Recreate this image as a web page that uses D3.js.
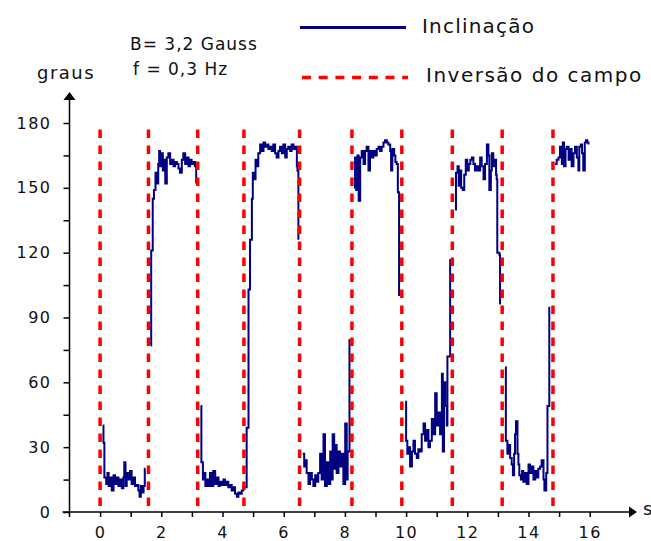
<!DOCTYPE html>
<html>
<head>
  <style>
    body { margin: 0; background: #fff; }
    svg text { font-family: "DejaVu Sans", Verdana, sans-serif; fill: #111; }
    .tick line { stroke: #000; stroke-width: 1.5; }
    .tick text { font-size: 16px; letter-spacing: 1.5px; }
  </style>
</head>
<body>
  <div id="chart"></div>
  <script src="https://d3js.org/d3.v7.min.js"></script>
  <script>
    // times (s) of the field inversions
    const inversoes = [0, 1.58, 3.19, 4.7, 6.52, 8.23, 9.86, 11.51, 13.14, 14.8];
    const inversaoExtent = [177, 2];

    // inclination (graus), one array per half period: [t, graus]
    const trecho1 = [[0.09,40],[0.11,32],[0.14,16],[0.2,13],[0.24,18],[0.28,12],[0.33,16],[0.38,10],[0.44,17],[0.49,13],[0.54,16],[0.6,12],[0.65,15],[0.71,11],[0.76,16],[0.79,23],[0.83,12],[0.87,18],[0.92,15],[0.98,19],[1.03,13],[1.09,16],[1.14,12],[1.2,12.5],[1.25,10],[1.29,7],[1.33,12],[1.37,9],[1.42,12],[1.46,20],[1.48,20]];
    const trecho2 = [[1.66,77],[1.67,121],[1.72,145],[1.76,149],[1.81,157],[1.85,152],[1.9,161],[1.93,167],[1.96,160],[2.0,166],[2.05,158],[2.09,163],[2.13,152],[2.18,164],[2.23,166],[2.29,161],[2.34,163],[2.4,160],[2.45,162],[2.51,161],[2.56,159],[2.61,157],[2.67,163],[2.72,166],[2.78,161],[2.83,164],[2.89,160],[2.94,163],[2.99,161],[3.05,162],[3.1,160],[3.14,152]];
    const trecho3 = [[3.29,49],[3.31,23],[3.36,15],[3.4,18],[3.44,12],[3.49,15],[3.54,12],[3.59,18],[3.65,12],[3.7,19],[3.76,13],[3.81,16],[3.87,12],[3.92,14],[3.98,12.5],[4.03,15],[4.08,12.5],[4.14,14],[4.19,11.5],[4.25,12.5],[4.3,10],[4.36,11.5],[4.41,8.5],[4.47,7],[4.52,9],[4.58,8.5],[4.63,10],[4.68,11.5],[4.76,11.5],
      [4.79,39],[4.85,103],[4.9,126],[4.96,145],[4.99,157],[5.03,154],[5.08,163],[5.12,160],[5.17,166],[5.23,170],[5.28,167],[5.34,171],[5.39,169],[5.45,170],[5.5,168],[5.56,169],[5.61,167],[5.66,170],[5.72,166],[5.77,164],[5.83,167],[5.88,169],[5.94,166],[5.99,170],[6.05,164],[6.1,168],[6.15,169],[6.21,167],[6.26,170],[6.32,168],[6.37,169],[6.43,160],[6.45,158],[6.48,126]];
    const trecho4 = [[6.62,27],[6.67,21],[6.7,24],[6.75,18],[6.81,13],[6.86,18],[6.92,15],[6.97,12],[7.03,17],[7.08,14],[7.13,18],[7.19,27],[7.24,15],[7.3,36],[7.35,12],[7.41,23],[7.46,13],[7.52,28],[7.57,15],[7.6,36],[7.65,20],[7.68,31],[7.73,18],[7.79,28],[7.84,21],[7.9,27],[7.95,13],[8.01,41],[8.06,15],[8.09,28],[8.13,28],[8.15,80]];
    const trecho5 = [[8.3,150],[8.33,164],[8.37,149],[8.41,165],[8.45,144],[8.5,164],[8.55,167],[8.61,161],[8.66,167],[8.71,169],[8.77,158],[8.82,167],[8.88,164],[8.93,167],[8.99,165],[9.04,168],[9.1,169],[9.15,167],[9.2,169],[9.26,171],[9.31,172],[9.37,171],[9.42,170],[9.48,167],[9.51,158],[9.55,168],[9.61,165],[9.65,162],[9.69,161],[9.73,148],[9.77,100]];
    const trecho6 = [[9.97,51],[10.0,33],[10.04,27],[10.09,30],[10.13,21],[10.19,28],[10.24,33],[10.29,27],[10.35,25],[10.4,29],[10.46,28],[10.51,36],[10.57,41],[10.62,33],[10.68,38],[10.73,30],[10.78,33],[10.84,43],[10.89,36],[10.95,55],[11.0,40],[11.06,46],[11.11,36],[11.17,64],[11.2,28],[11.24,60],[11.28,49],[11.33,40],[11.35,72],[11.42,72],[11.44,117]];
    const trecho7 = [[11.6,140],[11.63,157],[11.68,160],[11.72,151],[11.76,158],[11.8,150],[11.85,149],[11.9,156],[11.95,163],[12.0,158],[12.05,161],[12.1,163],[12.15,164],[12.2,161],[12.25,158],[12.31,160],[12.36,158],[12.42,164],[12.47,160],[12.53,154],[12.58,161],[12.64,170],[12.69,165],[12.72,149],[12.77,158],[12.8,166],[12.85,160],[12.91,163],[12.94,156],[12.96,154],[12.98,120],[13.05,119],[13.07,96]];
    const trecho8 = [[13.24,67],[13.26,33],[13.31,27],[13.36,31],[13.4,25],[13.45,22],[13.49,17],[13.53,27],[13.56,36],[13.59,42],[13.64,27],[13.67,22],[13.7,17],[13.75,15],[13.79,19],[13.83,14],[13.89,18],[13.94,13],[14.0,22],[14.05,18],[14.11,21],[14.16,15],[14.22,19],[14.27,16],[14.32,20],[14.38,21],[14.43,24],[14.49,15],[14.52,10],[14.58,18],[14.62,49],[14.66,49],[14.68,95]];
    const trecho9 = [[14.87,161],[14.92,163],[14.98,164],[15.03,169],[15.09,161],[15.12,171],[15.16,160],[15.21,168],[15.25,169],[15.31,163],[15.36,168],[15.41,160],[15.47,166],[15.52,169],[15.58,164],[15.63,158],[15.66,169],[15.71,170],[15.75,166],[15.79,158],[15.84,171],[15.88,172],[15.92,171],[15.96,170]];
    const trechos = [trecho1, trecho2, trecho3, trecho4, trecho5, trecho6, trecho7, trecho8, trecho9];

    const yTicks = d3.range(0, 181, 15);
    const xTicks = d3.range(0, 17, 1);

    const width = 651, height = 541;

    const svg = d3.select("#chart")
      .append("svg")
      .attr("width", width)
      .attr("height", height);

    const x = d3.scaleLinear().domain([-1, 17]).range([69.5, 620.3]);
    const y = d3.scaleLinear().domain([0, 180]).range([512, 123]);

    // y axis (ticks every 15, labels every 30)
    const yAxis = d3.axisLeft(y)
      .tickValues(yTicks)
      .tickSize(6)
      .tickPadding(12)
      .tickFormat(d => d % 30 === 0 ? d : "");
    const gy = svg.append("g")
      .attr("transform", `translate(${x(-1)},0)`)
      .call(yAxis);
    gy.select(".domain").remove();

    // x axis (ticks every 1 s, labels every 2)
    const xAxis = d3.axisBottom(x)
      .tickValues(xTicks)
      .tickSize(5)
      .tickPadding(10)
      .tickFormat(d => d % 2 === 0 ? d : "");
    const gx = svg.append("g")
      .attr("transform", `translate(0,${y(0)})`)
      .call(xAxis);
    gx.select(".domain").remove();

    // axis lines with arrows
    svg.append("line")
      .attr("x1", x(-1) - 7).attr("x2", 631)
      .attr("y1", y(0)).attr("y2", y(0))
      .attr("stroke", "#000").attr("stroke-width", 1.5);
    svg.append("path")
      .attr("d", `M637,${y(0)} L629,${y(0) - 5.5} L629,${y(0) + 5.5} Z`)
      .attr("fill", "#000");
    svg.append("line")
      .attr("x1", x(-1)).attr("x2", x(-1))
      .attr("y1", y(0) + 5).attr("y2", 99)
      .attr("stroke", "#000").attr("stroke-width", 1.5);
    svg.append("path")
      .attr("d", `M${x(-1)},92 L${x(-1) - 6},100 L${x(-1) + 6},100 Z`)
      .attr("fill", "#000");

    svg.append("text").attr("x", 37).attr("y", 79)
      .style("font-size", "18px").style("letter-spacing", "1.5px").text("graus");
    svg.append("text").attr("x", 643).attr("y", 515)
      .style("font-size", "18px").text("s");

    // inclination trace
    const line = d3.line()
      .x(d => x(d[0]))
      .y(d => y(d[1]))
      .curve(d3.curveStepAfter);

    svg.append("g")
      .selectAll("path")
      .data(trechos)
      .join("path")
      .attr("d", line)
      .attr("fill", "none")
      .attr("stroke", "#000080")
      .attr("stroke-width", 2);

    // field inversions
    svg.append("g")
      .selectAll("line")
      .data(inversoes)
      .join("line")
      .attr("x1", d => x(d)).attr("x2", d => x(d))
      .attr("y1", y(inversaoExtent[0])).attr("y2", y(inversaoExtent[1]))
      .attr("stroke", "#ff0000")
      .attr("stroke-width", 3.5)
      .attr("stroke-dasharray", "8.5,7.5");

    // parameters
    svg.append("text").attr("x", 130).attr("y", 50)
      .style("font-size", "17px").style("letter-spacing", "1px").text("B= 3,2 Gauss");
    svg.append("text").attr("x", 133).attr("y", 75)
      .style("font-size", "17px").style("letter-spacing", "1px").text("f = 0,3 Hz");

    // legend
    svg.append("line")
      .attr("x1", 300).attr("x2", 406).attr("y1", 27.5).attr("y2", 27.5)
      .attr("stroke", "#000080").attr("stroke-width", 3);
    svg.append("line")
      .attr("x1", 302).attr("x2", 408).attr("y1", 77.5).attr("y2", 77.5)
      .attr("stroke", "#ff0000").attr("stroke-width", 3.5)
      .attr("stroke-dasharray", "9,7.7");
    svg.append("text").attr("x", 422).attr("y", 33)
      .style("font-size", "20px").style("letter-spacing", "1.2px").text("Inclinação");
    svg.append("text").attr("x", 426).attr("y", 82)
      .style("font-size", "20px").style("letter-spacing", "1.5px").text("Inversão do campo");
  </script>
</body>
</html>
